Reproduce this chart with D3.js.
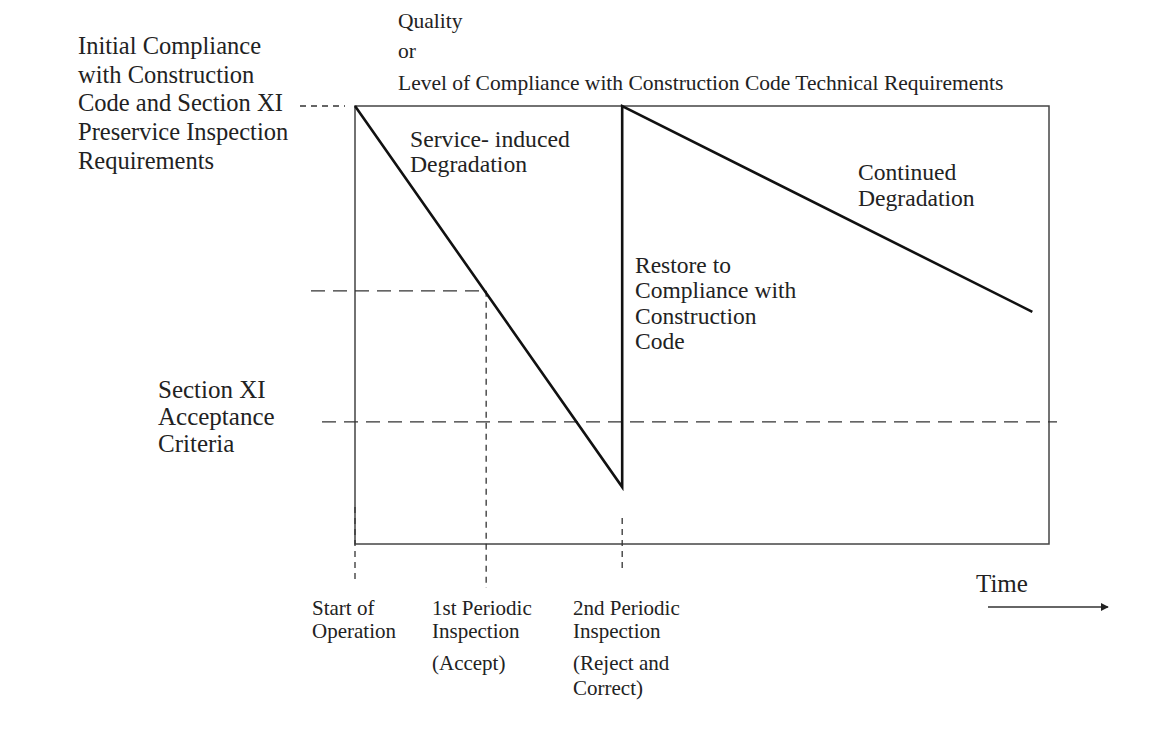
<!DOCTYPE html>
<html>
<head>
<meta charset="utf-8">
<script src="https://cdn.jsdelivr.net/npm/d3@7"></script>
<style>
  body { margin: 0; background: #fff; }
  text { font-family: "Liberation Serif", "Times New Roman", serif; fill: #222; }
</style>
</head>
<body>
<div></div>
<script>
// quality over time (box is 0..100 on both axes)
let pathTimes = [0, 38.5, 38.5, 97.6]
let pathQuality = [100, 13, 100, 53]

// reference levels
let firstInspectionQuality = 57.8
let acceptanceQuality = 27.9

// inspection points on the time axis
let eventTimes = [0, 18.9, 38.5]
let eventLabels = [
    ["Start of", "Operation"],
    ["1st Periodic", "Inspection", "(Accept)"],
    ["2nd Periodic", "Inspection", "(Reject and", "Correct)"]
]

let initialLabel = ["Initial Compliance", "with Construction", "Code and Section XI", "Preservice Inspection", "Requirements"]
let acceptLabel = ["Section XI", "Acceptance", "Criteria"]
let yTitle = ["Quality", "or", "Level of Compliance with Construction Code Technical Requirements"]
let degradLabel = ["Service- induced", "Degradation"]
let restoreLabel = ["Restore to", "Compliance with", "Construction", "Code"]
let continuedLabel = ["Continued", "Degradation"]

let margin = {top: 106, right: 102, bottom: 210, left: 355}
let W = 1151, H = 754
let width = W - margin.left - margin.right
let height = H - margin.top - margin.bottom

let svg = d3.select("div")
    .append("svg")
    .attr("width", W)
    .attr("height", H)

let g = svg.append("g")
    .attr("transform", "translate(" + margin.left + "," + margin.top + ")")

let x = d3.scaleLinear().domain([0, 100]).range([0, width])
let y = d3.scaleLinear().domain([0, 100]).range([height, 0])

// helper for multi-line text
function lines(sel, arr, px, py, size, step) {
    let t = sel.append("text")
        .attr("x", px)
        .attr("y", py)
        .style("font-size", size + "px")
    arr.forEach((s, i) => {
        t.append("tspan").attr("x", px).attr("y", py + i * step).text(s)
    })
    return t
}

// frame
g.append("rect")
    .attr("x", 0).attr("y", 0)
    .attr("width", width).attr("height", height)
    .attr("fill", "none")
    .attr("stroke", "#444")
    .attr("stroke-width", 1.5)

// horizontal dashed reference lines
g.append("line")
    .attr("x1", x(0) - 44).attr("x2", x(18.9))
    .attr("y1", y(firstInspectionQuality)).attr("y2", y(firstInspectionQuality))
    .attr("stroke", "#333").attr("stroke-width", 1.3)
    .attr("stroke-dasharray", "14,8")
g.append("line")
    .attr("x1", x(0) - 33).attr("x2", x(100) + 8)
    .attr("y1", y(acceptanceQuality)).attr("y2", y(acceptanceQuality))
    .attr("stroke", "#333").attr("stroke-width", 1.3)
    .attr("stroke-dasharray", "14,8")
g.append("line")
    .attr("x1", -55).attr("x2", -10)
    .attr("y1", y(100)).attr("y2", y(100))
    .attr("stroke", "#333").attr("stroke-width", 1.3)
    .attr("stroke-dasharray", "6,5")

// vertical dashed event lines
let eventTop = [y(13) + 20, y(firstInspectionQuality), y(13) + 31]
let eventBottom = [height + 35, height + 44, height + 29]
eventTimes.forEach((t, i) => {
    g.append("line")
        .attr("x1", x(t)).attr("x2", x(t))
        .attr("y1", eventTop[i]).attr("y2", eventBottom[i])
        .attr("stroke", "#333").attr("stroke-width", 1.3)
        .attr("stroke-dasharray", "6,5")
})

// quality path
let pts = pathTimes.map((t, i) => [t, pathQuality[i]])
g.append("path")
    .datum(pts)
    .attr("d", d3.line().x(d => x(d[0])).y(d => y(d[1])))
    .attr("fill", "none")
    .attr("stroke", "#111")
    .attr("stroke-width", 2.6)
    .attr("stroke-linejoin", "miter")

// labels
lines(svg, initialLabel, 78, 54, 24.5, 28.7)
lines(svg, acceptLabel, 158, 398, 25, 27)
lines(svg, degradLabel, 410, 147, 23.7, 25)
lines(svg, continuedLabel, 858, 180, 23.6, 25.5)
lines(svg, restoreLabel, 635, 273, 23.5, 25.3)

svg.append("text").attr("x", 398).attr("y", 28).style("font-size", "21.5px").text(yTitle[0])
svg.append("text").attr("x", 398).attr("y", 58).style("font-size", "21.5px").text(yTitle[1])
svg.append("text").attr("x", 398).attr("y", 90).style("font-size", "21.5px").text(yTitle[2])

let eventX = [312, 432, 573]
eventLabels.forEach((arr, i) => {
    arr.forEach((s, j) => {
        let yy = j < 2 ? 615 + j * 23 : 670 + (j - 2) * 25
        svg.append("text")
            .attr("x", eventX[i]).attr("y", yy)
            .style("font-size", "21px")
            .text(s)
    })
})

// time arrow
svg.append("text").attr("x", 976).attr("y", 592).style("font-size", "25px").text("Time")
svg.append("defs").append("marker")
    .attr("id", "arrow")
    .attr("viewBox", "0 0 10 10")
    .attr("refX", 9).attr("refY", 5)
    .attr("markerWidth", 8).attr("markerHeight", 8)
    .attr("markerUnits", "userSpaceOnUse")
    .attr("orient", "auto")
    .append("path")
    .attr("d", "M0,0 L10,5 L0,10 z")
    .attr("fill", "#222")
svg.append("line")
    .attr("x1", 988).attr("x2", 1108)
    .attr("y1", 607).attr("y2", 607)
    .attr("stroke", "#333").attr("stroke-width", 1.4)
    .attr("marker-end", "url(#arrow)")
</script>
</body>
</html>
